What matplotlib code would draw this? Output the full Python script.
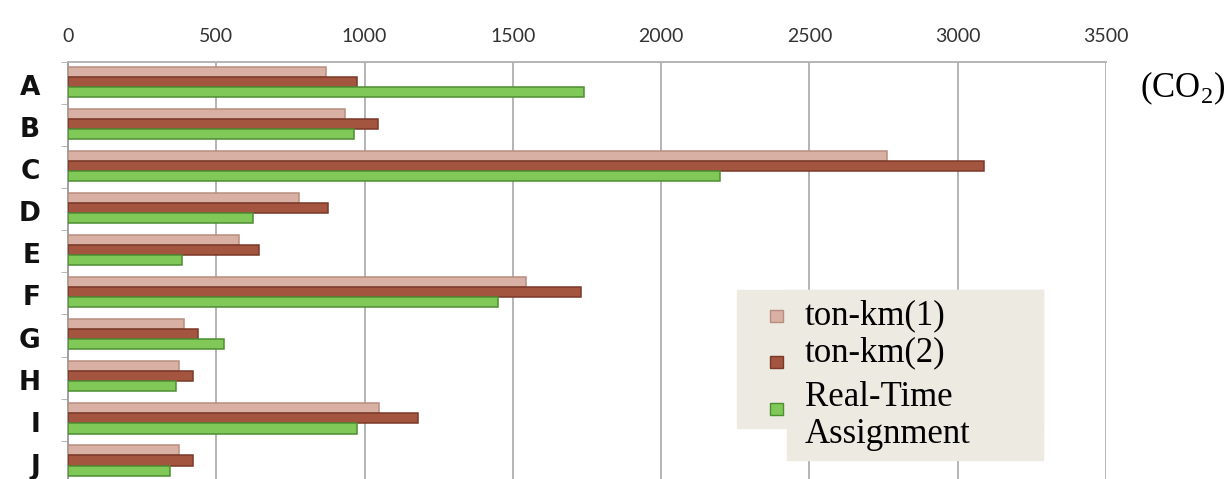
import matplotlib
matplotlib.use('Agg')
import matplotlib.pyplot as plt
import matplotlib.patches as mpatches
import matplotlib.transforms as mtransforms
import numpy as np

categories = ['A', 'B', 'C', 'D', 'E', 'F', 'G', 'H', 'I', 'J']
ton_km_1 = [870, 935, 2760, 780, 575, 1545, 390, 375, 1050, 375]
ton_km_2 = [975, 1045, 3090, 875, 645, 1730, 440, 420, 1180, 420]
real_time = [1740, 965, 2200, 625, 385, 1450, 525, 365, 975, 345]
series_labels = ['ton-km(1)', 'ton-km(2)', 'Real-Time\nAssignment']
xticks = [0, 500, 1000, 1500, 2000, 2500, 3000, 3500]

colors = ['#D8B0A4', '#A3553F', '#80C857']
edges = ['#B88E80', '#7A3828', '#4E8E32']

plt.rcParams['mathtext.fontset'] = 'custom'
plt.rcParams['mathtext.rm'] = 'Liberation Serif'

W, H = 1232, 479
fig = plt.figure(figsize=(W / 100, H / 100), dpi=100)
ax = fig.add_axes([68 / W, 0, (1106 - 68) / W, 1 - 62 / H])

y = np.arange(len(categories))
h = 0.24
for i, (vals, c, e) in enumerate(zip([ton_km_1, ton_km_2, real_time], colors, edges)):
    ax.barh(y + (i - 1) * h - 0.03, vals, height=h, color=c, edgecolor=e, linewidth=1.1, zorder=3)

ax.set_xlim(0, 3500)
ax.set_ylim(9.41, -0.45)
ax.xaxis.tick_top()
ax.set_xticks(xticks)
ax.set_xticklabels([str(t) for t in xticks], family='Lato', fontsize=14, color='#333333')
ax.tick_params(axis='x', length=0, pad=12)
ax.grid(axis='x', color='#B4B4B4', linewidth=1.4, zorder=0)

ax.set_yticks(y)
ax.set_yticklabels(categories, family='DejaVu Sans', fontweight='bold', fontsize=19, color='#111111')
ax.tick_params(axis='y', length=0, pad=20)
shift = mtransforms.ScaledTranslation(0, -2 / 100, fig.dpi_scale_trans)
for lab in ax.get_yticklabels():
    lab.set_transform(lab.get_transform() + shift)
ax.set_yticks(np.arange(-0.5, 9.5, 1), minor=True)
ax.tick_params(axis='y', which='minor', length=5, color='#AAAAAA')

for s in ['right', 'bottom']:
    ax.spines[s].set_visible(False)
ax.spines['top'].set_color('#B4B4B4')
ax.spines['top'].set_linewidth(1.4)
ax.spines['left'].set_color('#A0A0A0')
ax.spines['left'].set_linewidth(1.4)

fig.text(1183 / W, 1 - 88 / H, r'(CO$_2$)', family='Liberation Serif', fontsize=25,
         ha='center', va='center')

# legend box
bg = '#ECEAE1'
fig.patches.append(mpatches.Rectangle((737 / W, 1 - 428 / H), (1043 - 737) / W, (428 - 290) / H,
                                      transform=fig.transFigure, color=bg, zorder=5))
fig.patches.append(mpatches.Rectangle((787 / W, 1 - 460 / H), (1043 - 787) / W, (460 - 290) / H,
                                      transform=fig.transFigure, color=bg, zorder=5))
marker_y = [316, 362, 409]
text_y = [316, 353, 416]
for my, ty, lab, c, e in zip(marker_y, text_y, series_labels, colors, edges):
    fig.patches.append(mpatches.Rectangle((770 / W, 1 - (my + 6) / H), 13 / W, 12 / H,
                                          transform=fig.transFigure, facecolor=c, edgecolor=e,
                                          linewidth=1, zorder=6))
    fig.text(805 / W, 1 - ty / H, lab, family='Liberation Serif', fontsize=25,
             ha='left', va='center', zorder=7, linespacing=1.15)

fig.savefig('out.png', dpi=100)
